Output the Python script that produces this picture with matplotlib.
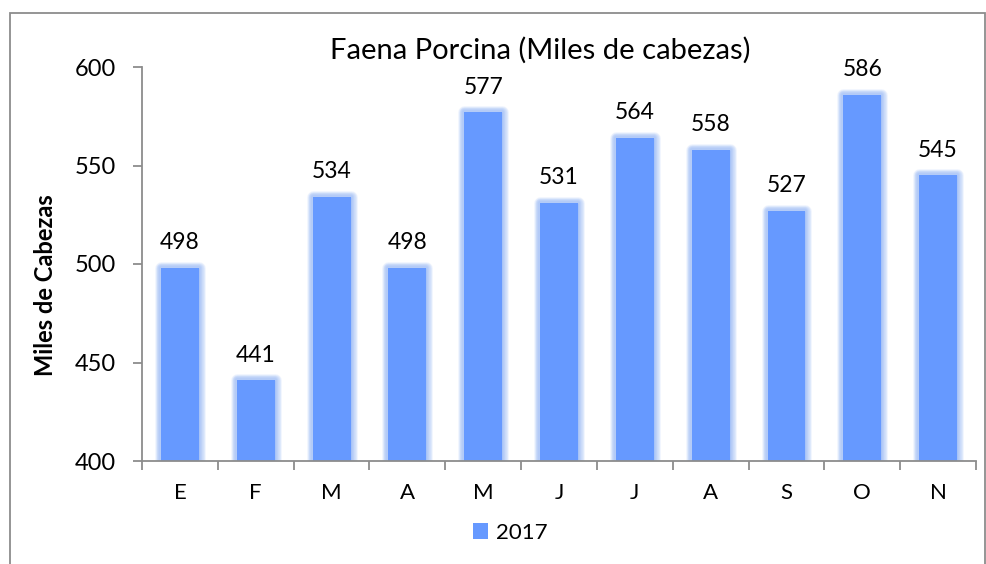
import matplotlib
matplotlib.use("Agg")
import matplotlib.pyplot as plt
import matplotlib.patheffects as pe
from matplotlib.patches import Rectangle
import numpy as np

categories = ["E", "F", "M", "A", "M", "J", "J", "A", "S", "O", "N"]
values = [498, 441, 534, 498, 577, 531, 564, 558, 527, 586, 545]
series_name = "2017"
title = "Faena Porcina (Miles de cabezas)"
ylabel = "Miles de Cabezas"
yticks = [400, 450, 500, 550, 600]

plt.rcParams['font.family'] = ['Lato', 'DejaVu Sans']

fig = plt.figure(figsize=(9.86, 5.64), dpi=100)
W, H = 986, 564
ax = fig.add_axes([142 / W, 1 - 461 / H, (976 - 142) / W, (461 - 67) / H])

# outer frame
fig.patches.append(Rectangle((10 / W, -0.05), (985 - 10) / W, 1.05 - 13 / H,
                             transform=fig.transFigure, fill=False,
                             edgecolor='#8c8c8c', linewidth=1.3))

x = np.arange(len(categories))
bar_color = '#6699FF'
bars = ax.bar(x, values, width=0.5, color=bar_color, label=series_name, zorder=3)
glow = []
for lw in [9.0, 7.8, 6.6, 5.4, 4.2, 3.0]:
    glow.append(pe.Stroke(linewidth=lw, foreground='#7fa9f5', alpha=0.13,
                          joinstyle='round'))
glow.append(pe.Normal())
for b in bars:
    b.set_path_effects(glow)

for xi, v in zip(x, values):
    ax.text(xi, v + 9.5, f"{v}", ha='center', va='baseline', fontsize=16.5,
            color='black')

ax.set_ylim(400, 600)
ax.set_xlim(-0.5, len(categories) - 0.5)
ax.set_yticks(yticks)
ax.set_yticklabels([str(t) for t in yticks], fontsize=17)
ax.set_xticks(x)
ax.set_xticklabels(categories, fontsize=16)
ax.tick_params(axis='x', length=0, pad=16)
ax.set_xticks(np.arange(-0.5, len(categories), 1), minor=True)
ax.tick_params(axis='x', which='minor', length=6.5, color='#8c8c8c', width=1.3)
ax.tick_params(axis='y', length=6.5, color='#8c8c8c', width=1.3, pad=12)

for s in ['top', 'right']:
    ax.spines[s].set_visible(False)
for s in ['left', 'bottom']:
    ax.spines[s].set_color('#8c8c8c')
    ax.spines[s].set_linewidth(1.3)
ax.spines['bottom'].set_zorder(5)

fig.text(540 / W, 1 - 59 / H, title, ha='center', va='baseline', fontsize=21)
fig.text(46 / W, 1 - 285 / H, ylabel, ha='center', va='center', rotation=90,
         fontsize=17, fontweight='bold')

leg = ax.legend(loc='center', bbox_to_anchor=(510 / W, 1 - 533 / H),
                bbox_transform=fig.transFigure, frameon=False, fontsize=16,
                handlelength=0.7, handleheight=0.7, handletextpad=0.35)
for h in leg.legend_handles:
    h.set_path_effects([])

fig.savefig("out.png", dpi=100)
